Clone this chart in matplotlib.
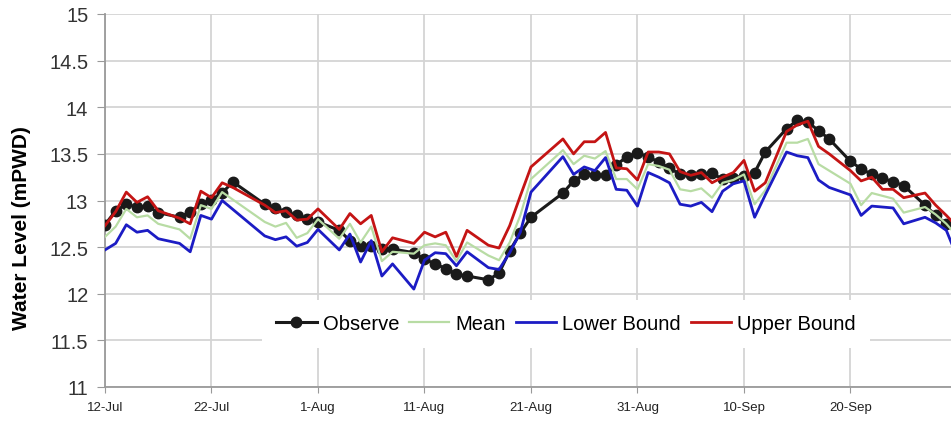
import matplotlib.pyplot as plt

# day offsets from 12-Jul
obs_days = [0, 1, 2, 3, 4, 5, 7, 8, 9, 10, 11, 12, 15, 16, 17, 18, 19, 20, 22, 23,
            24, 25, 26, 27, 29, 30, 31, 32, 33, 34, 36, 37, 38, 39, 40, 43, 44, 45,
            46, 47, 48, 49, 50, 51, 52, 53, 54, 55, 56, 57, 58, 59, 60, 61, 62, 64,
            65, 66, 67, 68, 70, 71, 72, 73, 74, 75, 77, 78, 79]
obs_level = [12.74, 12.89, 12.96, 12.93, 12.94, 12.87, 12.82, 12.88, 12.96, 13.01,
             13.08, 13.20, 12.96, 12.92, 12.88, 12.84, 12.80, 12.77, 12.68, 12.57,
             12.51, 12.51, 12.48, 12.48, 12.44, 12.37, 12.32, 12.27, 12.21, 12.19,
             12.15, 12.22, 12.46, 12.65, 12.82, 13.08, 13.21, 13.28, 13.27, 13.27,
             13.38, 13.47, 13.51, 13.47, 13.41, 13.35, 13.28, 13.27, 13.28, 13.29,
             13.23, 13.24, 13.26, 13.30, 13.52, 13.77, 13.86, 13.84, 13.75, 13.66,
             13.42, 13.34, 13.28, 13.24, 13.20, 13.16, 12.95, 12.84, 12.75]

mean_days = [0, 1, 2, 3, 4, 5, 7, 8, 9, 10, 11, 15, 16, 17, 18, 19, 20, 22, 23, 24,
             25, 26, 27, 29, 30, 31, 32, 33, 34, 36, 37, 38, 39, 40, 43, 44, 45, 46,
             47, 48, 49, 50, 51, 52, 53, 54, 55, 56, 57, 58, 59, 60, 61, 62, 64, 65,
             66, 67, 68, 70, 71, 72, 74, 75, 77, 78, 79, 80]
mean_level = [12.61, 12.72, 12.91, 12.82, 12.84, 12.75, 12.69, 12.59, 12.95, 12.91,
              13.09, 12.77, 12.72, 12.76, 12.60, 12.65, 12.80, 12.59, 12.75, 12.55,
              12.72, 12.35, 12.45, 12.43, 12.52, 12.54, 12.52, 12.35, 12.55, 12.41,
              12.36, 12.55, 12.84, 13.23, 13.54, 13.39, 13.48, 13.45, 13.53, 13.23,
              13.23, 13.12, 13.39, 13.37, 13.33, 13.12, 13.10, 13.13, 13.03, 13.19,
              13.22, 13.28, 12.96, 13.11, 13.62, 13.62, 13.66, 13.39, 13.32, 13.18,
              12.95, 13.08, 13.02, 12.87, 12.93, 12.85, 12.75, 12.62]

lower_days = [0, 1, 2, 3, 4, 5, 7, 8, 9, 10, 11, 15, 16, 17, 18, 19, 20, 22, 23, 24,
              25, 26, 27, 29, 30, 31, 32, 33, 34, 36, 37, 38, 39, 40, 43, 44, 45, 46,
              47, 48, 49, 50, 51, 52, 53, 54, 55, 56, 57, 58, 59, 60, 61, 62, 64, 65,
              66, 67, 68, 70, 71, 72, 74, 75, 77, 78, 79, 80]
lower_level = [12.47, 12.54, 12.74, 12.66, 12.68, 12.59, 12.54, 12.45, 12.84, 12.80,
               13.00, 12.62, 12.58, 12.61, 12.51, 12.55, 12.69, 12.47, 12.64, 12.34,
               12.57, 12.19, 12.32, 12.05, 12.36, 12.44, 12.43, 12.30, 12.45, 12.28,
               12.26, 12.44, 12.66, 13.09, 13.47, 13.28, 13.36, 13.32, 13.46, 13.12,
               13.11, 12.94, 13.30, 13.25, 13.19, 12.96, 12.94, 12.98, 12.88, 13.10,
               13.18, 13.21, 12.82, 13.06, 13.52, 13.48, 13.46, 13.22, 13.14, 13.06,
               12.84, 12.94, 12.92, 12.75, 12.82, 12.76, 12.68, 12.40]

upper_days = [0, 1, 2, 3, 4, 5, 7, 8, 9, 10, 11, 12, 15, 16, 17, 18, 19, 20, 22, 23,
              24, 25, 26, 27, 29, 30, 31, 32, 33, 34, 36, 37, 38, 39, 40, 43, 44, 45,
              46, 47, 48, 49, 50, 51, 52, 53, 54, 55, 56, 57, 58, 59, 60, 61, 62, 64,
              65, 66, 67, 68, 70, 71, 72, 73, 74, 75, 77, 78, 79, 80]
upper_level = [12.73, 12.88, 13.09, 12.98, 13.04, 12.89, 12.81, 12.75, 13.10, 13.03,
               13.19, 13.14, 12.95, 12.87, 12.89, 12.79, 12.80, 12.91, 12.69, 12.86,
               12.75, 12.84, 12.45, 12.60, 12.54, 12.66, 12.61, 12.66, 12.40, 12.68,
               12.52, 12.49, 12.73, 13.05, 13.36, 13.66, 13.50, 13.63, 13.63, 13.73,
               13.35, 13.34, 13.22, 13.52, 13.52, 13.50, 13.31, 13.27, 13.30, 13.19,
               13.25, 13.30, 13.43, 13.10, 13.19, 13.74, 13.81, 13.85, 13.58, 13.50,
               13.32, 13.21, 13.25, 13.12, 13.12, 13.03, 13.08, 12.95, 12.84, 12.72]

tick_days = [0, 10, 20, 30, 40, 50, 60, 70]
tick_labels = ['12-Jul', '22-Jul', '1-Aug', '11-Aug', '21-Aug', '31-Aug', '10-Sep', '20-Sep']
y_ticks = [11, 11.5, 12, 12.5, 13, 13.5, 14, 14.5, 15]

plt.rcParams['font.family'] = ['Liberation Sans', 'DejaVu Sans']

fig = plt.figure(figsize=(9.51, 4.27), dpi=100)
ax = fig.add_axes([105 / 951, 1 - 388 / 427, 846 / 951, 373 / 427])

ax.plot(obs_days, obs_level, color='#1a1a1a', lw=2.2, marker='o', ms=7.5,
        label='Observe', zorder=3)
ax.plot(mean_days, mean_level, color='#b8dca4', lw=1.6, label='Mean', zorder=4)
ax.plot(lower_days, lower_level, color='#1c1cc4', lw=2.0, label='Lower Bound', zorder=5)
ax.plot(upper_days, upper_level, color='#c41414', lw=2.0, label='Upper Bound', zorder=6)

ax.set_xlim(0, 79.44)
ax.set_ylim(11, 15)
ax.set_yticks(y_ticks)
ax.set_yticklabels([f'{v:g}' for v in y_ticks], fontsize=14.5, color='#333333')
ax.set_xticks(tick_days)
ax.set_xticklabels(tick_labels, fontsize=9.5, color='#222222')
ax.tick_params(axis='y', length=6, color='#999999', pad=6)
ax.tick_params(axis='x', length=4, color='#999999', pad=6)

ax.grid(True, color='#d4d4d4', lw=1.3)
ax.set_axisbelow(True)
for side in ['top', 'right']:
    ax.spines[side].set_visible(False)
for side in ['left', 'bottom']:
    ax.spines[side].set_color('#9a9a9a')
    ax.spines[side].set_linewidth(1.3)

ax.set_ylabel('Water Level (mPWD)', fontsize=15, fontweight='bold')
ax.yaxis.set_label_coords(-0.088, 0.43)

leg = ax.legend(loc='center', bbox_to_anchor=(0.545, 0.169), ncol=4, frameon=True,
                prop={'size': 14.5}, handlelength=2.0,
                handletextpad=0.3, columnspacing=0.5, borderpad=0.7,
                fancybox=False, edgecolor='none', facecolor='white', framealpha=1)
leg.set_zorder(10)

fig.savefig('out.png', dpi=100)
